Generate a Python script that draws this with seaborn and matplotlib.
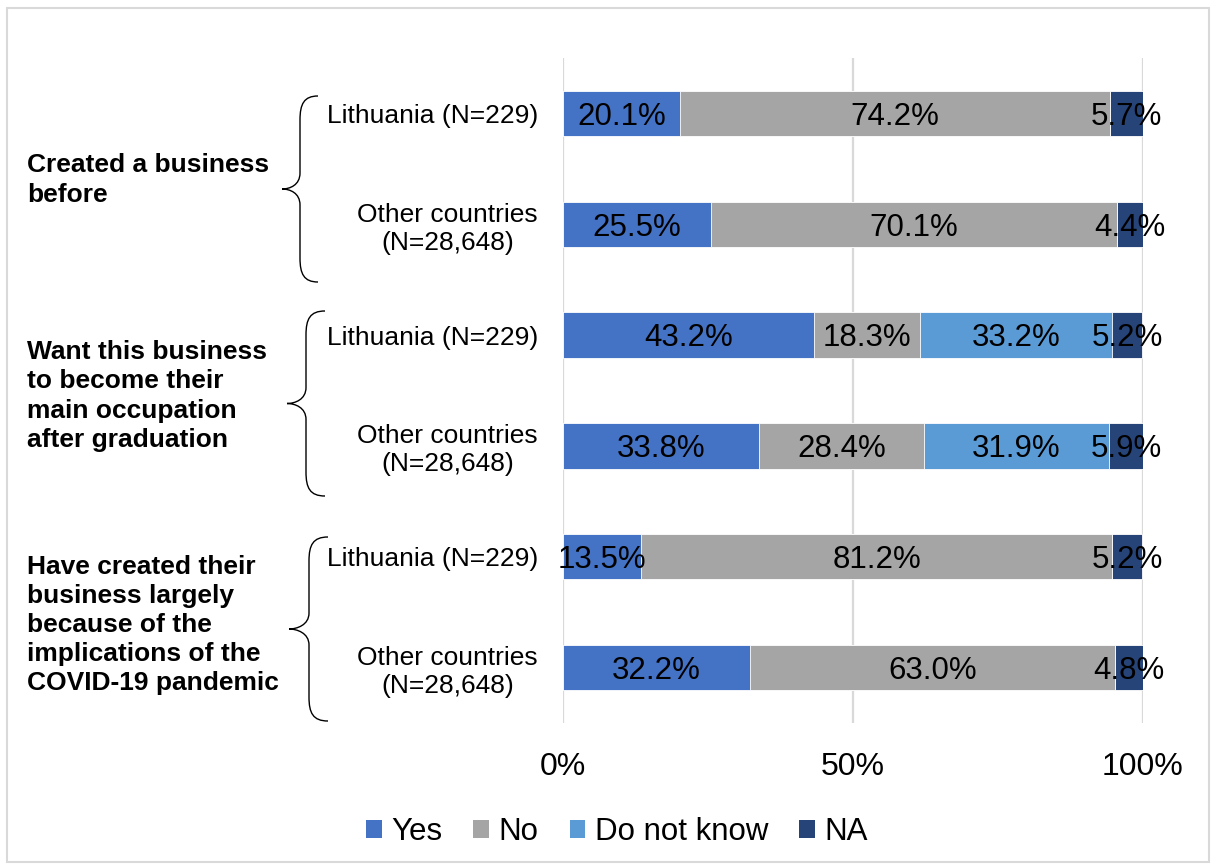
import matplotlib
matplotlib.use("Agg")
import matplotlib.pyplot as plt
from matplotlib.path import Path
from matplotlib.patches import PathPatch, Rectangle, Patch
import pandas as pd
import seaborn as sns

# data
rows = ["Lithuania (N=229)", "Other countries\n(N=28,648)"] * 3
groups = [
    "Created a business\nbefore",
    "Want this business\nto become their\nmain occupation\nafter graduation",
    "Have created their\nbusiness largely\nbecause of the\nimplications of the\nCOVID-19 pandemic",
]
answers = ["Yes", "No", "Do not know", "NA"]
yes = [20.1, 25.5, 43.2, 33.8, 13.5, 32.2]
no = [74.2, 70.1, 18.3, 28.4, 81.2, 63.0]
dont_know = [0, 0, 33.2, 31.9, 0, 0]
na = [5.7, 4.4, 5.2, 5.9, 5.2, 4.8]
colors = ["#4472C4", "#A5A5A5", "#5B9BD5", "#264478"]

W, H = 1212, 866

sns.set_style("white")
plt.rcParams["font.family"] = ["Liberation Sans", "DejaVu Sans"]
plt.rcParams["text.color"] = "black"
plt.rcParams["xtick.color"] = "black"
plt.rcParams["ytick.color"] = "black"

row_ids = [f"r{i}" for i in range(len(rows))]
df = pd.DataFrame({"row": row_ids, "Yes": yes, "No": no,
                   "Do not know": dont_know, "NA": na})
# cumulative sums for stacking
cum = df[answers].cumsum(axis=1)
cum["row"] = row_ids

fig = plt.figure(figsize=(W / 100, H / 100), dpi=100)
ax = fig.add_axes([563 / W, 1 - 723 / H, 580 / W, 665 / H])

# draw back to front so each stack segment shows
for ans, col in reversed(list(zip(answers, colors))):
    sns.barplot(data=cum, x=ans, y="row", order=row_ids, orient="h",
                color=col, saturation=1, width=0.41, errorbar=None,
                edgecolor="white", linewidth=0.6, ax=ax, zorder=3)

# value labels
for i, rid in enumerate(row_ids):
    left = 0
    for ans in answers:
        v = df.loc[i, ans]
        if v > 0:
            ax.text(left + v / 2, i + 0.03, f"{v:.1f}%", ha="center",
                    va="center", fontsize=22.5, color="black", zorder=5)
        left += v

ax.set_xlim(0, 100)
ax.set_ylim(len(rows) - 0.5, -0.5)
ax.set_xticks([0, 50, 100])
ax.set_xticklabels(["0%", "50%", "100%"], fontsize=23)
ax.set_yticks(range(len(rows)))
ax.set_yticklabels(rows, fontsize=19)
for t in ax.get_yticklabels():
    t.set_multialignment("center")
ax.set_xlabel("")
ax.set_ylabel("")
ax.tick_params(axis="y", length=0, pad=18)
ax.tick_params(axis="x", length=0, pad=21)
ax.grid(axis="x", color="#D9D9D9", linewidth=1.6, zorder=0)
ax.set_axisbelow(True)
sns.despine(ax=ax, left=True, bottom=True)


def brace(top, bottom, tip_x, spine_x, end_x):
    mid = (top + bottom) / 2
    pts = [
        (end_x, top), (spine_x + 4, top), (spine_x, top + 8), (spine_x, top + 24),
        (spine_x, mid - 16),
        (spine_x, mid - 4), (tip_x + 8, mid), (tip_x, mid),
        (tip_x + 8, mid), (spine_x, mid + 4), (spine_x, mid + 16),
        (spine_x, bottom - 24),
        (spine_x, bottom - 8), (spine_x + 4, bottom), (end_x, bottom),
    ]
    codes = [Path.MOVETO, Path.CURVE4, Path.CURVE4, Path.CURVE4,
             Path.LINETO,
             Path.CURVE4, Path.CURVE4, Path.CURVE4,
             Path.CURVE4, Path.CURVE4, Path.CURVE4,
             Path.LINETO,
             Path.CURVE4, Path.CURVE4, Path.CURVE4]
    verts = [(x / W, 1 - y / H) for x, y in pts]
    fig.add_artist(PathPatch(Path(verts, codes), transform=fig.transFigure,
                             fill=False, edgecolor="black", linewidth=1.0))


brace(96, 282, 282, 300, 318)
brace(311, 496, 287, 306, 325)
brace(537, 721, 289, 309, 328)

# group labels
for g, yc in zip(groups, [180, 396, 625]):
    fig.text(27 / W, 1 - yc / H, g, ha="left", va="center", fontsize=19,
             fontweight="bold", linespacing=1.27)

# legend
handles = [Patch(facecolor=c, edgecolor="none") for c in colors]
fig.legend(handles, answers, loc="center", bbox_to_anchor=(0.509, 1 - 832 / H),
           ncol=4, frameon=False, fontsize=22.5, handlelength=0.5,
           handleheight=0.5, handletextpad=0.3, columnspacing=1.0)

# outer border
fig.add_artist(Rectangle((7 / W, 1 - 862 / H), 1202 / W, 854 / H,
                         transform=fig.transFigure, fill=False,
                         edgecolor="#D9D9D9", linewidth=1.5))

fig.savefig("out.png", dpi=100)
